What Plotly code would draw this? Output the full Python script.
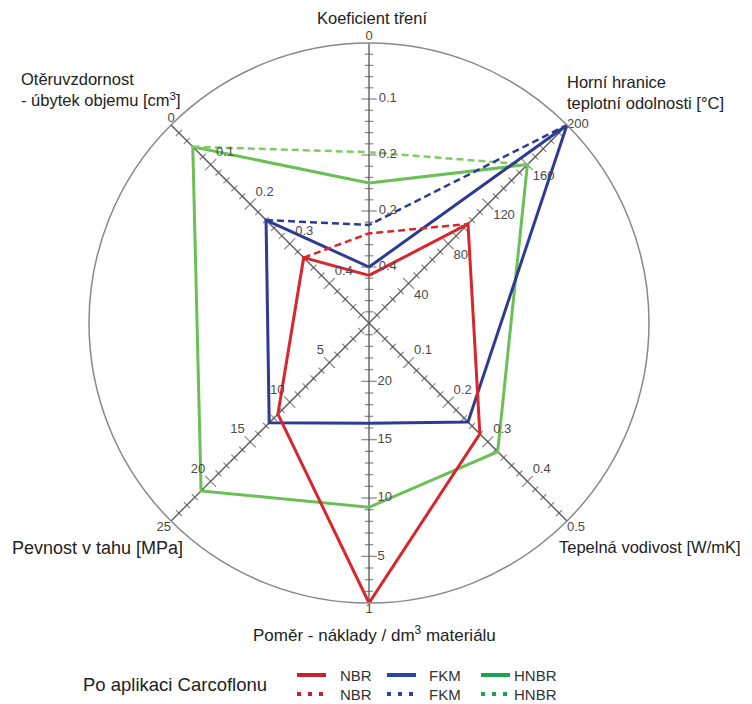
import numpy as np
import plotly.graph_objects as go

# page body has an 8px margin: figure pixel = reference pixel - OFF
OFF = 8
W, H = 752 - OFF, 704 - OFF

# ---- axes (clockwise from top) ----
axis_names = ["Koeficient tření", "Horní hranice teplotní odolnosti [°C]",
              "Tepelná vodivost [W/mK]", "Poměr - náklady / dm³ materiálu",
              "Pevnost v tahu [MPa]", "Otěruvzdornost - úbytek objemu [cm³]"]
axis_theta = [0, 45, 135, 180, 225, 315]
axis_center_val = [0.5, 0, 0, 25, 0, 0.5]
axis_outer_val = [0, 200, 0.5, 1, 25, 0]
axis_tick_step = [0.02, 8, 0.02, 1, 1, 0.02]

# tick labels per axis (values and displayed text)
tick_vals = [[0.1, 0.2, 0.3, 0.4],
             [40, 80, 120, 160],
             [0.1, 0.2, 0.3, 0.4],
             [5, 10, 15, 20],
             [5, 10, 15, 20],
             [0.1, 0.2, 0.3, 0.4]]
tick_text = [["0.1", "0.2", "0.2", "0.4"],
             ["40", "80", "120", "160"],
             ["0.1", "0.2", "0.3", "0.4"],
             ["5", "10", "15", "20"],
             ["5", "10", "15", "20"],
             ["0.1", "0.2", "0.3", "0.4"]]
end_text = ["0", "200", "0.5", "1", "25", "0"]

# ---- data ----
nbr = [0.415, 100, 0.28, 1, 11.5, 0.335]
fkm = [0.40, 200, 0.25, 16.4, 12.6, 0.24]
hnbr = [0.25, 160, 0.325, 9.2, 21.2, 0.055]
# after Carcoflon application (friction coefficient)
nbr_carco = 0.34
fkm_carco = 0.325
hnbr_carco = 0.195

series = [("HNBR", hnbr, hnbr_carco, "#6abf55", "#80cc64"),
          ("FKM", fkm, fkm_carco, "#2e3b94", "#2e3b94"),
          ("NBR", nbr, nbr_carco, "#d8262c", "#d8262c")]


def rnorm(i, v):
    return (v - axis_center_val[i]) / (axis_outer_val[i] - axis_center_val[i])


fig = go.Figure()

# axis lines and ticks
for i, t in enumerate(axis_theta):
    fig.add_trace(go.Scatterpolar(r=[0, 1], theta=[t, t], mode="lines",
                                  line=dict(color="#555", width=1.3),
                                  hoverinfo="skip", showlegend=False))
    lo, hi = sorted([axis_center_val[i], axis_outer_val[i]])
    vals = np.arange(lo, hi + 1e-9, axis_tick_step[i])
    vals = [v for v in vals if 0.01 < rnorm(i, v) < 0.995]
    majors = set(round(v, 4) for v in tick_vals[i])
    sizes = [11 if round(v, 4) in majors else 6 for v in vals]
    fig.add_trace(go.Scatterpolar(r=[rnorm(i, v) for v in vals], theta=[t] * len(vals),
                                  mode="markers",
                                  marker=dict(symbol="line-ew", size=sizes, angle=t,
                                              line=dict(color="#555", width=1.2)),
                                  hoverinfo="skip", showlegend=False))

# polygons
for name, vals, carco, col, dcol in series:
    r = [rnorm(i, v) for i, v in enumerate(vals)]
    fig.add_trace(go.Scatterpolar(r=r + [r[0]], theta=axis_theta + [axis_theta[0]],
                                  mode="lines", line=dict(color=col, width=3),
                                  name=name, showlegend=False))
    fig.add_trace(go.Scatterpolar(r=[r[5], rnorm(0, carco), r[1]],
                                  theta=[axis_theta[5], axis_theta[0], axis_theta[1]],
                                  mode="lines", line=dict(color=dcol, width=2.5, dash="7px,4px"),
                                  name=name + " (Carcoflon)", showlegend=False))

# tick labels
inner_pos = ["middle right", "bottom right", "top right", "middle right", "top left", "top right"]
inner_pad = [14, 7, 7, 12, 7, 7]
end_pos = ["top center", "middle right", "bottom right", "bottom center", "bottom left", "top center"]
for i, t in enumerate(axis_theta):
    fig.add_trace(go.Scatterpolar(r=[rnorm(i, v) for v in tick_vals[i]], theta=[t] * 4,
                                  mode="markers+text", text=tick_text[i], textposition=inner_pos[i],
                                  marker=dict(size=inner_pad[i], opacity=0),
                                  textfont=dict(size=13, color="#4a4a4a"),
                                  hoverinfo="skip", showlegend=False))
    fig.add_trace(go.Scatterpolar(r=[1.0], theta=[t], mode="text", text=[end_text[i]],
                                  textposition=end_pos[i],
                                  textfont=dict(size=13, color="#4a4a4a"),
                                  hoverinfo="skip", showlegend=False))

cx, cy, R = 369 - OFF, 323 - OFF, 280
fig.update_layout(
    width=W, height=H,
    margin=dict(l=0, r=0, t=0, b=0),
    paper_bgcolor="white",
    font=dict(family="Liberation Sans, Arial, sans-serif", color="#222"),
    showlegend=False,
    polar=dict(
        domain=dict(x=[(cx - R) / W, (cx + R) / W], y=[(H - cy - R) / H, (H - cy + R) / H]),
        bgcolor="white",
        radialaxis=dict(visible=False, range=[0, 1]),
        angularaxis=dict(rotation=90, direction="clockwise", showgrid=False,
                         showticklabels=False, ticks="", showline=True,
                         linecolor="#888", linewidth=1.5),
    ),
)


def P(x, y):
    return (x - OFF) / W, 1 - (y - OFF) / H


ann = [
    ("Koeficient tření", 372, 18, "center", 16.5),
    ("Horní hranice<br>teplotní odolnosti [°C]", 565, 93, "left", 16.5),
    ("Otěruvzdornost<br>- úbytek objemu [cm<sup>3</sup>]", 19, 89, "left", 16.5),
    ("Tepelná vodivost [W/mK]", 650, 547, "center", 16.5),
    ("Pevnost v tahu [MPa]", 97, 548, "center", 18),
    ("Poměr - náklady / dm<sup>3</sup> materiálu", 374, 634, "center", 17),
    ("Po aplikaci Carcoflonu", 175, 684, "center", 18.5),
]
for text, x, y, al, fs in ann:
    px, py = P(x, y)
    fig.add_annotation(x=px, y=py, xref="paper", yref="paper", text=text, showarrow=False,
                       xanchor=al, yanchor="middle", align="left",
                       font=dict(size=fs, color="#222"))

# manual legend
leg = [("NBR", "#c8202f", 297, 338), ("FKM", "#2a46a0", 387, 427), ("HNBR", "#1aa550", 481, 512)]
for name, col, x0, xt in leg:
    for yy, dash in [(675, "solid"), (694, "4px,7px")]:
        a = P(x0, yy)
        b = P(x0 + 29, yy)
        fig.add_shape(type="line", xref="paper", yref="paper", x0=a[0], y0=a[1], x1=b[0], y1=b[1],
                      line=dict(color=col, width=4, dash=dash))
        t = P(xt, yy)
        fig.add_annotation(x=t[0], y=t[1], xref="paper", yref="paper", text=name, showarrow=False,
                           xanchor="left", yanchor="middle",
                           font=dict(size=15, color="#333",
                                     family="Liberation Sans Narrow, Liberation Sans, Arial"))

fig.write_html("out.html")
